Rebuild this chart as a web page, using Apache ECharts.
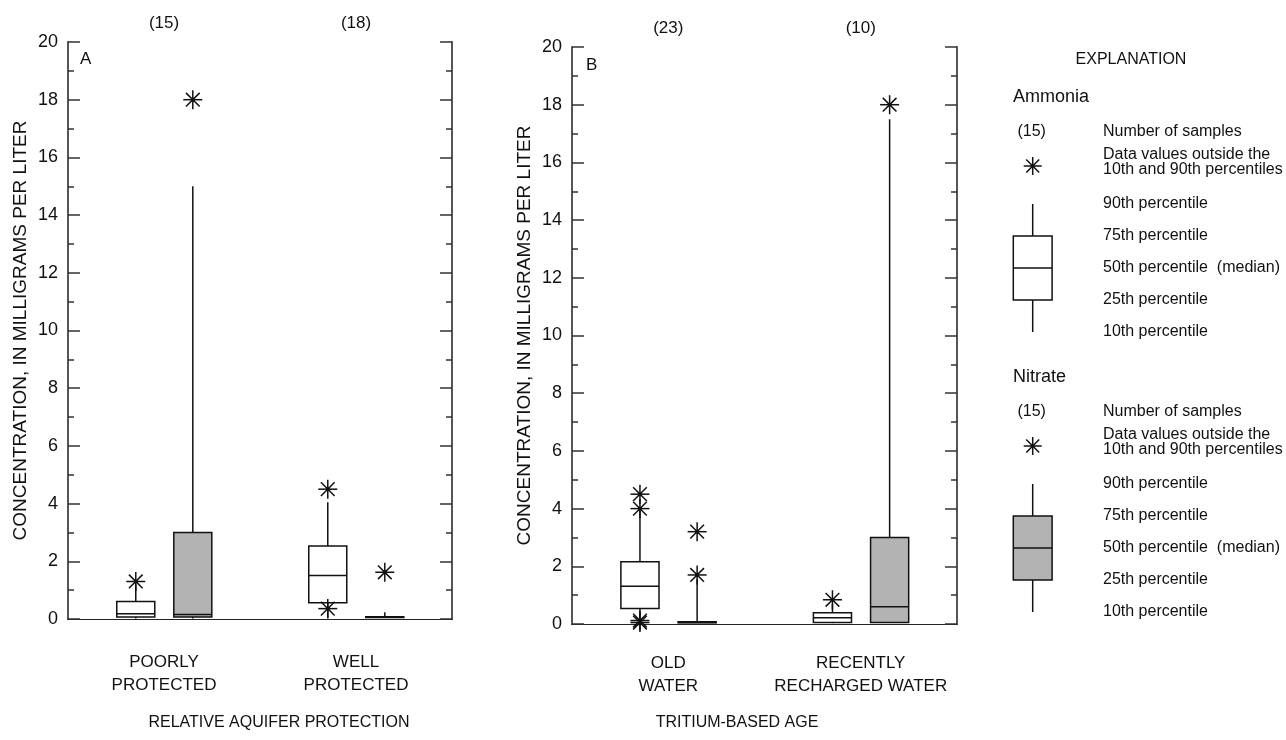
<!DOCTYPE html>
<html>
<head>
<meta charset="utf-8">
<script src="https://cdn.jsdelivr.net/npm/echarts@6/dist/echarts.min.js"></script>
<style>
html,body{margin:0;padding:0;background:#fff;}
#chart{width:1286px;height:740px;}
</style>
</head>
<body>
<div id="chart"></div>
<script>
// ---------------- DATA ----------------
const categoriesA = ['POORLY\nPROTECTED', 'WELL\nPROTECTED'];
const countsA = ['(15)', '(18)'];
const categoriesB = ['OLD\nWATER', 'RECENTLY\nRECHARGED WATER'];
const countsB = ['(23)', '(10)'];
const yTicks = [0, 2, 4, 6, 8, 10, 12, 14, 16, 18, 20];

// [10th, 25th, 50th, 75th, 90th] per category
const ammoniaA = [[0.02, 0.07, 0.18, 0.61, 1.2], [0.02, 0.56, 1.51, 2.53, 4.05]];
const nitrateA = [[0.02, 0.07, 0.16, 3.0, 15.0], [0.05, 0.05, 0.06, 0.08, 0.23]];
const ammoniaB = [[0.25, 0.54, 1.31, 2.16, 3.95], [0.03, 0.05, 0.22, 0.39, 0.7]];
const nitrateB = [[0.04, 0.04, 0.05, 0.08, 1.55], [0.05, 0.05, 0.6, 3.0, 17.5]];

// outliers: [categoryIndex, value]
const ammoniaOutA = [[0, 1.3], [1, 4.5], [1, 0.36]];
const nitrateOutA = [[0, 18.0], [1, 1.62]];
const ammoniaOutB = [[0, 4.5], [0, 4.0], [0, 0.12], [0, 0.05], [1, 0.84]];
const nitrateOutB = [[0, 3.2], [0, 1.7], [1, 18.0]];

// ---------------- STYLE ----------------
const FONT = "'Liberation Sans', Arial, Helvetica, sans-serif";
const INK = '#111';
const GRAY = '#b3b3b3';
const OFF_AMM = -0.147, OFF_NIT = 0.150, HALF_W = 0.099;

function starLines(cx, cy, r) {
  const d = r * 0.72;
  const st = {stroke: INK, lineWidth: 1.5};
  return [
    {type: 'line', shape: {x1: cx, y1: cy - r, x2: cx, y2: cy + r}, style: st},
    {type: 'line', shape: {x1: cx - r, y1: cy, x2: cx + r, y2: cy}, style: st},
    {type: 'line', shape: {x1: cx - d, y1: cy - d, x2: cx + d, y2: cy + d}, style: st},
    {type: 'line', shape: {x1: cx - d, y1: cy + d, x2: cx + d, y2: cy - d}, style: st},
    {type: 'circle', shape: {cx: cx, cy: cy, r: 2}, style: {fill: INK}}
  ];
}

function boxRender(off, fill) {
  return function (params, api) {
    const cat = api.value(0);
    const band = api.size([1, 0])[0];
    const cx = api.coord([cat, 0])[0] + off * band;
    const hw = HALF_W * band;
    const y = i => api.coord([cat, api.value(i)])[1];
    const yLow = y(1), yQ1 = y(2), yMed = y(3), yQ3 = y(4), yHigh = y(5);
    const ls = {stroke: INK, lineWidth: 1.5};
    return {type: 'group', children: [
      {type: 'line', shape: {x1: cx, y1: yHigh, x2: cx, y2: yQ3}, style: ls},
      {type: 'line', shape: {x1: cx, y1: yQ1, x2: cx, y2: yLow}, style: ls},
      {type: 'rect', shape: {x: cx - hw, y: yQ3, width: 2 * hw, height: Math.max(yQ1 - yQ3, 0.5)},
        style: {fill: fill, stroke: INK, lineWidth: 1.5}},
      {type: 'line', shape: {x1: cx - hw, y1: yMed, x2: cx + hw, y2: yMed}, style: ls}
    ]};
  };
}

function starRender(off) {
  return function (params, api) {
    const cat = api.value(0);
    const band = api.size([1, 0])[0];
    const p = api.coord([cat, api.value(1)]);
    return {type: 'group', children: starLines(p[0] + off * band, p[1], 9.5)};
  };
}

function boxData(arr) { return arr.map((v, i) => [i].concat(v)); }

function yAxes(gi) {
  const base = {
    gridIndex: gi, type: 'value', min: yTicks[0], max: yTicks[yTicks.length - 1], interval: 2,
    axisLine: {show: true, lineStyle: {color: '#555', width: 2}},
    axisTick: {show: true, inside: true, length: 12, lineStyle: {color: '#333', width: 1.5}},
    minorTick: {show: true, splitNumber: 2, length: 6, lineStyle: {color: '#333', width: 1.5}},
    splitLine: {show: false}
  };
  const left = Object.assign({}, base, {
    position: 'left',
    axisLabel: {fontSize: 18, color: INK, fontFamily: FONT, margin: 10},
    name: 'CONCENTRATION, IN MILLIGRAMS PER LITER', nameLocation: 'middle',
    nameGap: 38, nameRotate: 90,
    nameTextStyle: {fontSize: 19, color: INK, fontFamily: FONT}
  });
  const right = Object.assign({}, base, {position: 'right', axisLabel: {show: false}});
  return [left, right];
}

function xAxes(gi, cats, counts, labelMargin) {
  return [
    {gridIndex: gi, type: 'category', data: cats, position: 'bottom',
      axisLine: {show: true, lineStyle: {color: '#222', width: 1.2}},
      axisTick: {show: false},
      axisLabel: {interval: 0, fontSize: 17, color: INK, fontFamily: FONT, margin: labelMargin, lineHeight: 23}},
    {gridIndex: gi, type: 'category', data: counts, position: 'top',
      axisLine: {show: true, lineStyle: {color: '#222', width: 1.2}},
      axisTick: {show: false},
      axisLabel: {interval: 0, fontSize: 17, color: INK, fontFamily: FONT, margin: 10}}
  ];
}

// legend helpers
function txt(x, y, s, size, align) {
  return {type: 'text', x: x, y: y, silent: true,
    style: {text: s, fill: INK, fontSize: size || 16, fontFamily: FONT,
      align: align || 'left', verticalAlign: 'middle', lineHeight: 15}};
}
function legendBlock(title, top, fill) {
  const cx = 1032.7, hw = 19.4;
  const yCount = top + 35, yStar = top + 69;
  const yW1 = top + 107, yQ3 = top + 139, yMed = top + 171, yQ1 = top + 203, yW0 = top + 235;
  const ls = {stroke: INK, lineWidth: 1.5};
  const els = [
    txt(1013, top, title, 18),
    txt(cx - 1, yCount, '(15)', 16, 'center'),
    txt(1103, yCount, 'Number of samples'),
    txt(1103, yStar - 4, 'Data values outside the\n10th and 90th percentiles'),
    txt(1103, yW1, '90th percentile'),
    txt(1103, yQ3, '75th percentile'),
    txt(1103, yMed, '50th percentile  (median)'),
    txt(1103, yQ1, '25th percentile'),
    txt(1103, yW0, '10th percentile'),
    {type: 'line', shape: {x1: cx, y1: yW1, x2: cx, y2: yQ3}, style: ls},
    {type: 'line', shape: {x1: cx, y1: yQ1, x2: cx, y2: yW0}, style: ls},
    {type: 'rect', shape: {x: cx - hw, y: yQ3, width: 2 * hw, height: yQ1 - yQ3}, style: {fill: fill, stroke: INK, lineWidth: 1.5}},
    {type: 'line', shape: {x1: cx - hw, y1: yMed, x2: cx + hw, y2: yMed}, style: ls}
  ];
  return els.concat(starLines(cx, yStar, 9));
}

const chart = echarts.init(document.getElementById('chart'), null, {renderer: 'canvas'});

const option = {
  backgroundColor: '#fff',
  animation: false,
  grid: [
    {left: 68, top: 42, width: 384, height: 577},
    {left: 572, top: 47, width: 385, height: 577}
  ],
  xAxis: xAxes(0, categoriesA, countsA, 32).concat(xAxes(1, categoriesB, countsB, 28)),
  yAxis: yAxes(0).concat(yAxes(1)),
  series: [
    {type: 'custom', xAxisIndex: 0, yAxisIndex: 0, renderItem: boxRender(OFF_AMM, '#fff'), data: boxData(ammoniaA)},
    {type: 'custom', xAxisIndex: 0, yAxisIndex: 0, renderItem: boxRender(OFF_NIT, GRAY), data: boxData(nitrateA)},
    {type: 'custom', xAxisIndex: 0, yAxisIndex: 0, renderItem: starRender(OFF_AMM), data: ammoniaOutA},
    {type: 'custom', xAxisIndex: 0, yAxisIndex: 0, renderItem: starRender(OFF_NIT), data: nitrateOutA},
    {type: 'custom', xAxisIndex: 2, yAxisIndex: 2, renderItem: boxRender(OFF_AMM, '#fff'), data: boxData(ammoniaB)},
    {type: 'custom', xAxisIndex: 2, yAxisIndex: 2, renderItem: boxRender(OFF_NIT, GRAY), data: boxData(nitrateB)},
    {type: 'custom', xAxisIndex: 2, yAxisIndex: 2, renderItem: starRender(OFF_AMM), data: ammoniaOutB},
    {type: 'custom', xAxisIndex: 2, yAxisIndex: 2, renderItem: starRender(OFF_NIT), data: nitrateOutB}
  ],
  graphic: [
    txt(80, 59, 'A', 17),
    txt(586, 65, 'B', 17),
    txt(279, 723, 'RELATIVE AQUIFER PROTECTION', 16, 'center'),
    txt(737, 723, 'TRITIUM-BASED AGE', 16, 'center'),
    txt(1131, 60, 'EXPLANATION', 16, 'center')
  ].concat(legendBlock('Ammonia', 97, '#fff'))
   .concat(legendBlock('Nitrate', 377, GRAY))
};
chart.setOption(option);
</script>
</body>
</html>
